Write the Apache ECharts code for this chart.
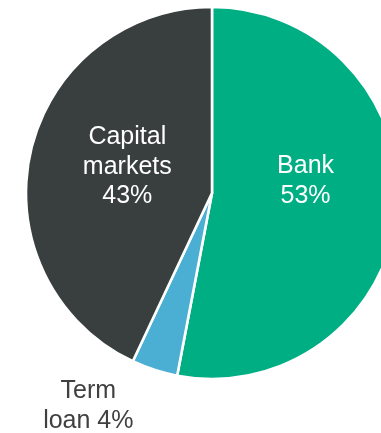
<!DOCTYPE html>
<html>
<head>
<meta charset="utf-8">
<script src="https://cdn.jsdelivr.net/npm/echarts@6/dist/echarts.min.js"></script>
<style>
  html, body { margin: 0; padding: 0; background: #ffffff; }
  #chart { width: 381px; height: 433px; }
</style>
</head>
<body>
<div id="chart"></div>
<script>
// Funding mix by source (share of total, %)
const categories = ['Bank', 'Term loan', 'Capital markets'];
const labelNames = ['Bank', 'Term\nloan', 'Capital\nmarkets'];
const shares = [53, 4, 43];
const colors = ['#00AE84', '#4AAFD2', '#393E3F'];

// Per-slice label styling: in-slice labels are white, the small slice is labelled below the pie
const labelStyles = [
  { color: '#ffffff', lineHeight: 30, offset: [-2, -21], sep: '\n' },
  { color: '#404040', lineHeight: 30, offset: [-94, 122], sep: ' ' },
  { color: '#ffffff', lineHeight: 29.5, offset: [9, -5], sep: '\n' }
];

const chart = echarts.init(document.getElementById('chart'), null, { renderer: 'canvas' });

chart.setOption({
  backgroundColor: '#ffffff',
  animation: false,
  series: [{
    type: 'pie',
    center: [212, 193],
    radius: [0, 186],
    startAngle: 90,
    clockwise: true,
    avoidLabelOverlap: false,
    itemStyle: { borderColor: '#ffffff', borderWidth: 2.6 },
    labelLine: { show: false },
    data: categories.map((name, i) => ({
      name: name,
      value: shares[i],
      itemStyle: { color: colors[i] },
      label: {
        show: true,
        position: 'inside',
        formatter: labelNames[i] + labelStyles[i].sep + shares[i] + '%',
        color: labelStyles[i].color,
        fontFamily: 'Liberation Sans, Arial, sans-serif',
        fontSize: 25,
        lineHeight: labelStyles[i].lineHeight,
        align: 'center',
        offset: labelStyles[i].offset
      }
    }))
  }]
});
</script>
</body>
</html>
